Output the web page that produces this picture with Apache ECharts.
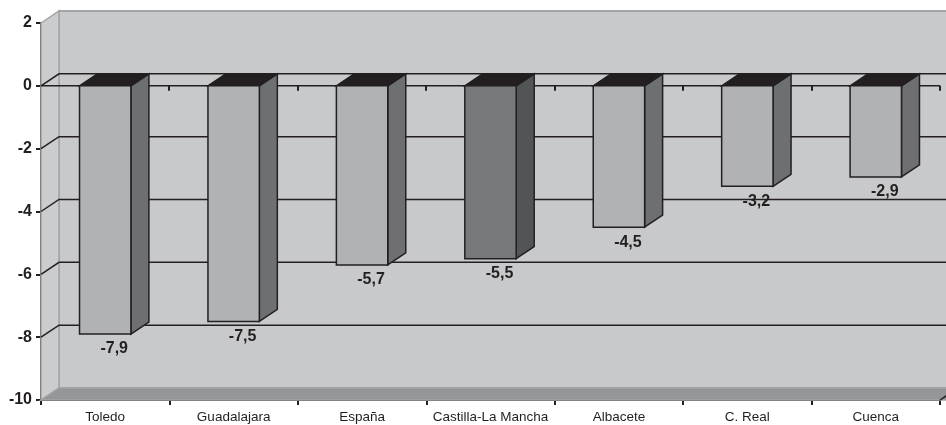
<!DOCTYPE html>
<html>
<head>
<meta charset="utf-8">
<script src="https://cdn.jsdelivr.net/npm/echarts@6/dist/echarts.min.js"></script>
<style>
html,body{margin:0;padding:0;background:#ffffff;}
#chart{width:946px;height:425px;}
</style>
</head>
<body>
<div id="chart"></div>
<script>
// ---- data ----
const categories = ['Toledo', 'Guadalajara', 'España', 'Castilla-La Mancha', 'Albacete', 'C. Real', 'Cuenca'];
const values = [-7.9, -7.5, -5.7, -5.5, -4.5, -3.2, -2.9];
const yMin = -10;
const yMax = 2;
const yStep = 2;
const regionalTotal = 'Castilla-La Mancha';

// ---- style ----
const DX = 18, DY = -12;           // 3D depth offset (pixels)
const INK = '#231f20';
const WALL = '#c8c9cb';
const SIDE_WALL = '#cbcccd';
const WALL_EDGE = '#a3a4a6';
const FLOOR = '#959698';
const BAR_FRONT = '#b1b2b5', BAR_SIDE = '#6e6f72';
const HI_FRONT = '#77787b', HI_SIDE = '#535456';
const FONT = '"Liberation Sans", Arial, sans-serif';

const chart = echarts.init(document.getElementById('chart'), null, {renderer: 'canvas'});

function fmt(v) { return v.toFixed(1).replace('.', ','); }

function renderWalls(params, api) {
  const cs = params.coordSys;
  const x0 = cs.x, x1 = cs.x + cs.width;
  const yT = api.coord([0, yMax])[1];
  const yB = api.coord([0, yMin])[1];
  const children = [];
  // back wall
  children.push({type: 'rect', shape: {x: x0 + DX, y: yT + DY, width: (x1 - x0) + 60, height: yB - yT},
    style: {fill: WALL, stroke: WALL_EDGE, lineWidth: 2}});
  // left wall
  children.push({type: 'polygon', shape: {points: [[x0, yT], [x0 + DX, yT + DY], [x0 + DX, yB + DY], [x0, yB]]},
    style: {fill: SIDE_WALL, stroke: WALL_EDGE, lineWidth: 1.5}});
  // floor
  children.push({type: 'polygon', shape: {points: [[x0, yB], [x0 + DX, yB + DY], [x1 + DX + 40, yB + DY], [x1 + 40, yB], [x1, yB]]},
    style: {fill: FLOOR, stroke: WALL_EDGE, lineWidth: 1.5}});
  // floor right edge
  children.push({type: 'line', shape: {x1: x1, y1: yB, x2: x1 + DX, y2: yB + DY},
    style: {stroke: INK, lineWidth: 1.5}});
  // gridlines
  for (let v = yMin + yStep; v < yMax; v += yStep) {
    const y = api.coord([0, v])[1];
    children.push({type: 'polyline', shape: {points: [[x0, y], [x0 + DX, y + DY], [x1 + 60, y + DY]]},
      style: {stroke: INK, lineWidth: 1.5, fill: null}});
  }
  // zero category line with ticks
  const y0 = api.coord([0, 0])[1];
  children.push({type: 'line', shape: {x1: x0, y1: y0, x2: x1, y2: y0}, style: {stroke: INK, lineWidth: 1.5}});
  const band = cs.width / categories.length;
  for (let k = 1; k <= categories.length; k++) {
    const x = Math.round(x0 + band * k);
    children.push({type: 'line', shape: {x1: x, y1: y0, x2: x, y2: y0 + 5}, style: {stroke: INK, lineWidth: 2}});
  }
  return {type: 'group', children: children};
}

function renderBar(params, api) {
  const i = api.value(0), v = api.value(1);
  const p0 = api.coord([i, 0]);
  const p1 = api.coord([i, v]);
  const bw = api.size([1, 0])[0] * 0.4;
  const xl = p0[0] - bw / 2, xr = p0[0] + bw / 2;
  const yt = p0[1], yb = p1[1];
  const hi = categories[i] === regionalTotal;
  const front = hi ? HI_FRONT : BAR_FRONT;
  const side = hi ? HI_SIDE : BAR_SIDE;
  const st = {stroke: INK, lineWidth: 1.5, lineJoin: 'miter'};
  return {type: 'group', children: [
    {type: 'polygon', shape: {points: [[xr, yt], [xr + DX, yt + DY], [xr + DX, yb + DY], [xr, yb]]},
      style: Object.assign({fill: side}, st)},
    {type: 'polygon', shape: {points: [[xl, yt], [xl + DX, yt + DY], [xr + DX, yt + DY], [xr, yt]]},
      style: Object.assign({fill: INK}, st)},
    {type: 'rect', shape: {x: xl, y: yt, width: bw, height: yb - yt},
      style: Object.assign({fill: front}, st)},
    {type: 'text', x: p0[0] + DX / 2, y: yb + 7,
      style: {text: fmt(v), fill: INK, font: 'bold 16px ' + FONT, align: 'center', verticalAlign: 'top'}}
  ]};
}

const option = {
  animation: false,
  backgroundColor: '#ffffff',
  grid: {left: 41, right: 6, top: 23, bottom: 25, containLabel: false},
  xAxis: {
    type: 'category',
    data: categories,
    axisLine: {onZero: false, lineStyle: {color: INK, width: 2}},
    axisTick: {show: true, length: 5, lineStyle: {color: INK, width: 2}},
    axisLabel: {color: INK, fontFamily: FONT, fontSize: 13.5, margin: 10, interval: 0},
    splitLine: {show: false}
  },
  yAxis: {
    type: 'value',
    min: yMin, max: yMax, interval: yStep,
    axisLine: {show: true, lineStyle: {color: INK, width: 2}},
    axisTick: {show: true, length: 5, lineStyle: {color: INK, width: 2}},
    axisLabel: {color: INK, fontFamily: FONT, fontSize: 16, fontWeight: 'bold', margin: 9},
    splitLine: {show: false}
  },
  series: [
    {type: 'custom', renderItem: renderWalls, data: [[0, 0]], z: 1, silent: true, clip: false},
    {type: 'custom', renderItem: renderBar, data: values.map((v, i) => [i, v]), z: 3, clip: false}
  ]
};
chart.setOption(option);
</script>
</body>
</html>
